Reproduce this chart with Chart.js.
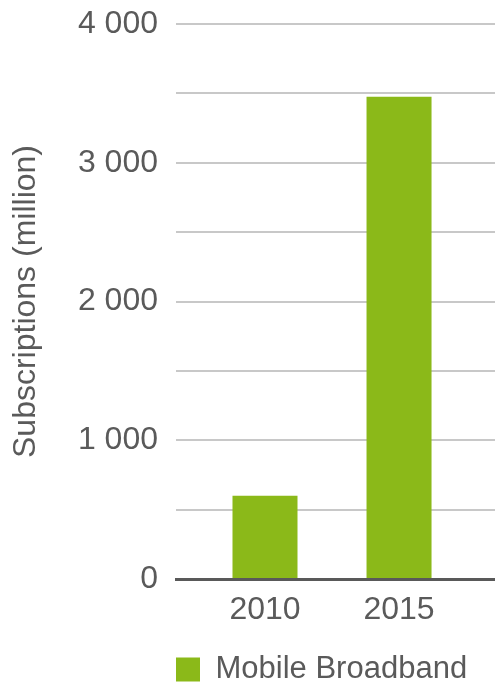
<!DOCTYPE html>
<html>
<head>
<meta charset="utf-8">
<script src="https://cdn.jsdelivr.net/npm/chart.js@4"></script>
<style>
  html, body { margin: 0; padding: 0; background: #fff; }
  #wrap { width: 495px; height: 684px; }
</style>
</head>
<body>
<div id="wrap"><canvas id="subsChart" width="495" height="684"></canvas></div>
<script>
const years = ["2010", "2015"];
const subscriptions = [600, 3475];
const seriesName = "Mobile Broadband";
const yTitle = "Subscriptions (million)";
const yMax = 4000;
const yStep = 500;

const textColor = "#5a5a5a";
const barColor = "#8bb919";
const fontFamily = "'Liberation Sans', Arial, sans-serif";

// thousands separated by a space: 4 000
function spaced(v) {
  return String(v).replace(/\B(?=(\d{3})+(?!\d))/g, " ");
}

const points = years.map((y, i) => ({ x: i, y: subscriptions[i] }));

const ctx = document.getElementById("subsChart").getContext("2d");

new Chart(ctx, {
  type: "bar",
  data: {
    datasets: [
      {
        label: seriesName,
        data: points,
        backgroundColor: barColor,
        borderWidth: 0,
        barPercentage: 0.485,
        categoryPercentage: 1
      }
    ]
  },
  options: {
    responsive: false,
    animation: false,
    layout: { padding: { top: 24, right: 0, bottom: -11, left: 0 } },
    scales: {
      x: {
        type: "linear",
        offset: false,
        min: -0.664,
        max: 1.716,
        grid: { display: false, drawTicks: false },
        border: { display: true, color: "#595959", width: 3 },
        afterBuildTicks: scale => {
          scale.ticks = years.map((y, i) => ({ value: i }));
        },
        afterFit: scale => { scale.height = 75; },
        ticks: {
          padding: 12,
          color: textColor,
          font: { family: fontFamily, size: 32 },
          callback: v => years[v]
        }
      },
      y: {
        min: 0,
        max: yMax,
        grid: { color: "#c8c8c8", lineWidth: 2, drawTicks: false },
        border: { display: false },
        afterFit: scale => {
          scale.width = 176;
          // top label may overhang; keep the plot top at the layout padding
          scale.paddingTop = 0;
          scale.paddingBottom = 0;
        },
        ticks: {
          stepSize: yStep,
          padding: 18,
          color: textColor,
          font: { family: fontFamily, size: 32 },
          callback: v => (v % 1000 === 0 ? spaced(v) : "")
        },
        title: {
          display: true,
          text: yTitle,
          color: textColor,
          font: { family: fontFamily, size: 32 },
          padding: { top: 7, bottom: 0 }
        }
      }
    },
    plugins: {
      legend: {
        position: "bottom",
        align: "start",
        fullSize: false,
        labels: {
          color: textColor,
          font: { family: fontFamily, size: 31, lineHeight: 1 },
          boxWidth: 24,
          boxHeight: 24,
          padding: 0
        }
      },
      tooltip: { enabled: false }
    }
  }
});
</script>
</body>
</html>
